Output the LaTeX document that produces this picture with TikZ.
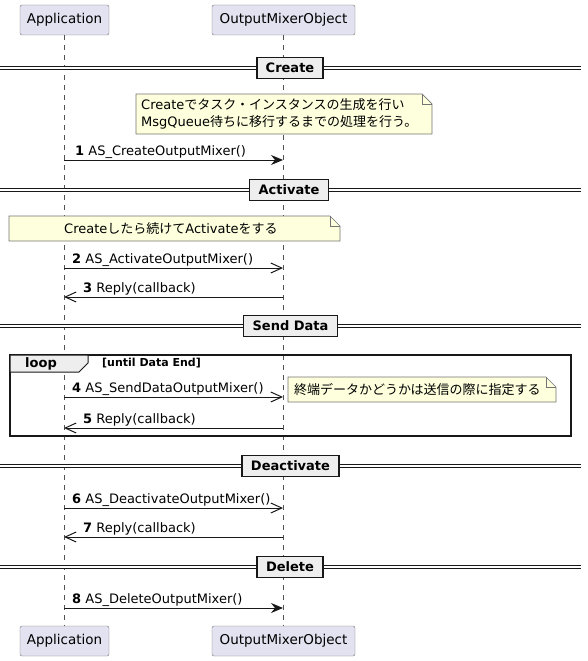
\documentclass[tikz,border=0pt]{standalone}
\usepackage{fontspec}
\setmainfont{DejaVu Sans}
\newfontfamily\jp{Noto Sans CJK JP}
\usetikzlibrary{arrows.meta}
\definecolor{partfill}{HTML}{E2E2F0}
\definecolor{notefill}{HTML}{FEFFDD}
\definecolor{groupfill}{HTML}{EEEEEE}
\definecolor{umlline}{HTML}{181818}

\begin{document}
\begin{tikzpicture}[x=1pt,y=-1pt,
  participant/.style={draw=umlline!60, fill=partfill, rounded corners=2pt,
    minimum width=#1, minimum height=30pt, inner sep=0pt,
    font=\fontsize{13.5}{16}\selectfont},
  lifeline/.style={umlline!75, line width=0.8pt, dash pattern=on 5pt off 5pt},
  divline/.style={umlline, line width=1.1pt, double=white, double distance=2.3pt},
  divider/.style={draw=umlline, line width=1.6pt, fill=groupfill, inner xsep=9pt,
    minimum height=21pt, font=\bfseries\fontsize{13}{15}\selectfont},
  notebox/.style={draw=umlline!60, fill=notefill, line width=0.7pt},
  notetext/.style={inner sep=0pt, align=left, font=\fontsize{13}{17}\selectfont},
  msglabel/.style={inner sep=0pt, anchor=base west, font=\fontsize{13}{15}\selectfont},
  call/.style={umlline, line width=1pt, -{Stealth[length=12pt,width=10pt,inset=4pt]}},
  async/.style={umlline, line width=1pt, -{Straight Barb[length=11pt,width=10pt]}},
  loopframe/.style={draw=umlline, line width=1.5pt},
]
\useasboundingbox (0,0) rectangle (587,661);

% Participants
\node[participant=89pt] (appTop) at (64.5,20) {Application};
\node[participant=143pt] (omoTop) at (283.5,20) {OutputMixerObject};
\node[participant=89pt] (appBot) at (64.5,641) {Application};
\node[participant=143pt] (omoBot) at (283.5,641) {OutputMixerObject};

% Lifelines
\draw[lifeline] (appTop.south) -- (appBot.north);
\draw[lifeline] (omoTop.south) -- (omoBot.north);

% Create
\draw[divline] (0,68) -- (581,68);
\node[divider] (dCreate) at (290,68) {Create};
\draw[notebox] (136,94) -- (422,94) -- (432,104) -- (432,134) -- (136,134) -- cycle;
\draw[notebox, fill=none] (422,94) -- (422,104) -- (432,104);
\node[notetext, anchor=west] (nCreate) at (141,114)
  {Create{\jp でタスク・インスタンスの生成を行い}\\MsgQueue{\jp 待ちに移行するまでの処理を行う。}};
\coordinate (m1a) at (64,160);
\coordinate (m1b) at (283,160);
\draw[call] (m1a) -- (m1b);
\node[msglabel] (l1) at (75,155) {\textbf{1} AS\_CreateOutputMixer()};

% Activate
\draw[divline] (0,190) -- (581,190);
\node[divider] (dActivate) at (289,190) {Activate};
\draw[notebox] (9,216) -- (330,216) -- (340,226) -- (340,241) -- (9,241) -- cycle;
\draw[notebox, fill=none] (330,216) -- (330,226) -- (340,226);
\node[notetext, anchor=west] (nActivate) at (64,229)
  {Create{\jp したら続けて}Activate{\jp をする}};
\coordinate (m2a) at (64,268);
\coordinate (m2b) at (283,268);
\draw[async] (m2a) -- (m2b);
\node[msglabel] (l2) at (72,263) {\textbf{2} AS\_ActivateOutputMixer()};
\coordinate (m3a) at (283,297);
\coordinate (m3b) at (64,297);
\draw[async] (m3a) -- (m3b);
\node[msglabel] (l3) at (83,292) {\textbf{3} Reply(callback)};

% Send Data
\draw[divline] (0,326) -- (581,326);
\node[divider] (dSend) at (290.5,326) {Send Data};
\draw[loopframe] (10,355) rectangle (571,436);
\draw[loopframe, line width=1pt, fill=groupfill] (10,355) -- (88,355) -- (88,363)
  -- (79,372) -- (10,372) -- cycle;
\node[inner sep=0pt, anchor=west, font=\bfseries\fontsize{13}{15}\selectfont] (loopTag)
  at (25,364) {loop};
\node[inner sep=0pt, anchor=west, font=\bfseries\fontsize{11}{13}\selectfont] (loopCond)
  at (102,363) {[until Data End]};
\coordinate (m4a) at (64,397);
\coordinate (m4b) at (283,397);
\draw[async] (m4a) -- (m4b);
\node[msglabel] (l4) at (72,392) {\textbf{4} AS\_SendDataOutputMixer()};
\draw[notebox] (288,377) -- (546,377) -- (556,387) -- (556,402) -- (288,402) -- cycle;
\draw[notebox, fill=none] (546,377) -- (546,387) -- (556,387);
\node[notetext, anchor=west] (nSend) at (294,390) {\jp 終端データかどうかは送信の際に指定する};
\coordinate (m5a) at (283,428);
\coordinate (m5b) at (64,428);
\draw[async] (m5a) -- (m5b);
\node[msglabel] (l5) at (83,423) {\textbf{5} Reply(callback)};

% Deactivate
\draw[divline] (0,466) -- (581,466);
\node[divider] (dDeactivate) at (290.5,466) {Deactivate};
\coordinate (m6a) at (64,508);
\coordinate (m6b) at (283,508);
\draw[async] (m6a) -- (m6b);
\node[msglabel] (l6) at (72,503) {\textbf{6} AS\_DeactivateOutputMixer()};
\coordinate (m7a) at (283,537);
\coordinate (m7b) at (64,537);
\draw[async] (m7a) -- (m7b);
\node[msglabel] (l7) at (83,532) {\textbf{7} Reply(callback)};

% Delete
\draw[divline] (0,567) -- (581,567);
\node[divider] (dDelete) at (290,567) {Delete};
\coordinate (m8a) at (64,608);
\coordinate (m8b) at (283,608);
\draw[call] (m8a) -- (m8b);
\node[msglabel] (l8) at (72,603) {\textbf{8} AS\_DeleteOutputMixer()};

\end{tikzpicture}
\end{document}
